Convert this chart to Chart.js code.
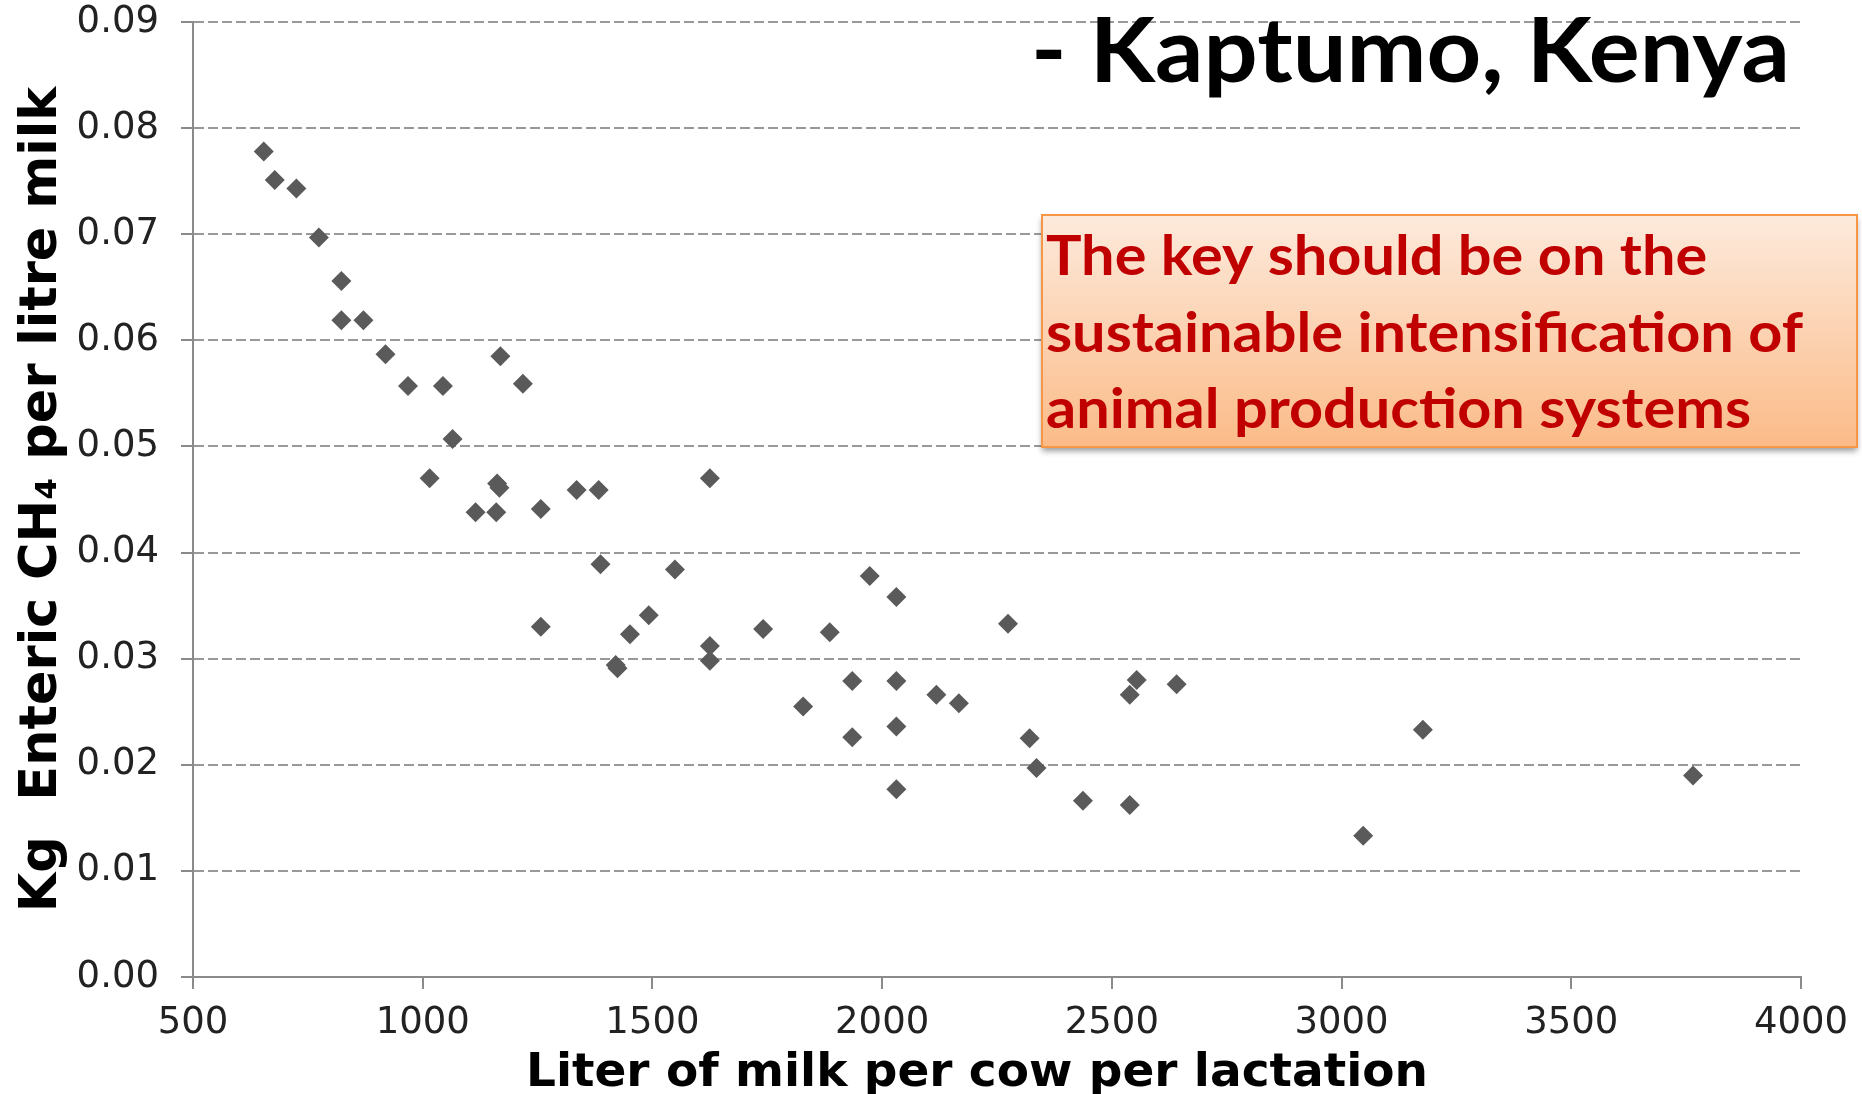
<!DOCTYPE html>
<html>
<head>
<meta charset="utf-8">
<script src="https://cdn.jsdelivr.net/npm/chart.js@4.4.1/dist/chart.umd.min.js"></script>
<style>
  html, body { margin: 0; padding: 0; background: #fff; }
  canvas { display: block; }
</style>
</head>
<body>
<canvas id="ch4Chart" width="1862" height="1094"></canvas>
<script>
// Datos (litros por lactancia, kg CH4 por litro)
const milkLitres = [654, 678, 725, 774, 823, 823, 871, 919, 968, 1044, 1169, 1218, 1065, 1015, 1162, 1167,
  1335, 1383, 1625, 1115, 1160, 1257, 1257, 1387, 1549, 1492, 1451, 1420, 1424, 1625, 1625, 1741,
  1886, 1973, 2031, 1828, 1935, 2031, 2118, 2167, 1935, 2031, 2031, 2274, 2554, 2539, 2641, 2321,
  2336, 2437, 2539, 3047, 3177, 3765];
const ch4PerLitre = [0.0778, 0.0751, 0.0743, 0.0697, 0.0656, 0.0619, 0.0619, 0.0587, 0.0557, 0.0557, 0.0585, 0.0559, 0.0507, 0.0470, 0.0465, 0.0461,
  0.0459, 0.0459, 0.0470, 0.0438, 0.0438, 0.0441, 0.0330, 0.0389, 0.0384, 0.0341, 0.0323, 0.0294, 0.0291, 0.0312, 0.0298, 0.0328,
  0.0325, 0.0378, 0.0358, 0.0255, 0.0279, 0.0279, 0.0266, 0.0258, 0.0226, 0.0236, 0.0177, 0.0333, 0.0280, 0.0266, 0.0276, 0.0225,
  0.0197, 0.0166, 0.0162, 0.0133, 0.0233, 0.0190];

const xTicks = [500, 1000, 1500, 2000, 2500, 3000, 3500, 4000];
const yTicks = [0, 0.01, 0.02, 0.03, 0.04, 0.05, 0.06, 0.07, 0.08, 0.09];

const titleText = '- Kaptumo, Kenya';
const xTitleText = 'Liter of milk per cow per lactation';
const boxLines = ['The key should be on the', 'sustainable intensification of', 'animal production systems'];

const axisGray = '#8a8a8a';

// Titulo, recuadro naranja y titulo del eje X
const annotations = {
    id: 'annotations',
    afterDraw(chart) {
        const ctx = chart.ctx;
        ctx.save();
        ctx.textBaseline = 'alphabetic';

        // titulo grande
        ctx.font = 'bold 90px Lato';
        ctx.fillStyle = '#000';
        let w = ctx.measureText(titleText).width;
        ctx.save();
        ctx.translate(1031, 82);
        ctx.scale(759 / w, 1);
        ctx.fillText(titleText, 0, 0);
        ctx.restore();

        // titulo eje X
        ctx.font = 'bold 47px "DejaVu Sans"';
        ctx.textAlign = 'center';
        ctx.fillText(xTitleText, 977, 1086);
        ctx.textAlign = 'left';

        // recuadro
        const bx = 1042, by = 215, bw = 815, bh = 232;
        const grad = ctx.createLinearGradient(0, by, 0, by + bh);
        grad.addColorStop(0, '#fdeadc');
        grad.addColorStop(1, '#fbbb88');
        ctx.save();
        ctx.shadowColor = 'rgba(0,0,0,0.4)';
        ctx.shadowBlur = 6;
        ctx.shadowOffsetY = 4;
        ctx.fillStyle = grad;
        ctx.fillRect(bx, by, bw, bh);
        ctx.restore();
        ctx.strokeStyle = '#f79646';
        ctx.lineWidth = 2;
        ctx.strokeRect(bx, by, bw, bh);

        ctx.font = 'bold 56px Lato';
        ctx.fillStyle = '#c00000';
        const sx = 757 / ctx.measureText(boxLines[1]).width;
        const baselines = [275, 352, 428];
        boxLines.forEach((line, i) => {
            ctx.save();
            ctx.translate(1046, baselines[i]);
            ctx.scale(sx, 1);
            ctx.fillText(line, 0, 0);
            ctx.restore();
        });

        ctx.restore();
    }
};

const ctx = document.getElementById('ch4Chart').getContext('2d');
new Chart(ctx, {
    type: 'scatter',
    data: {
        datasets: [{
            data: milkLitres.map((x, i) => ({ x: x, y: ch4PerLitre[i] })),
            pointStyle: 'rectRot',
            pointRadius: 10,
            pointHoverRadius: 10,
            backgroundColor: '#5a5a5a',
            borderWidth: 0
        }]
    },
    options: {
        responsive: false,
        animation: false,
        layout: { padding: { left: 0, right: 61, top: 22, bottom: 0 } },
        plugins: {
            legend: { display: false },
            tooltip: { enabled: false }
        },
        scales: {
            x: {
                type: 'linear',
                min: 500,
                max: 4000,
                afterBuildTicks: function(scale) {
                    scale.ticks = xTicks.map(v => ({ value: v }));
                },
                afterFit: function(scale) {
                    scale.height = 1094 - 977;
                    scale.paddingLeft = 0;
                    scale.paddingRight = 0;
                },
                ticks: {
                    font: { family: 'DejaVu Sans', size: 37 },
                    color: '#222',
                    padding: 12,
                    maxRotation: 0,
                    callback: function(value) { return String(value); }
                },
                grid: {
                    drawOnChartArea: false,
                    tickLength: 12,
                    color: axisGray,
                    lineWidth: 2
                },
                border: { color: axisGray, width: 2 }
            },
            y: {
                min: 0,
                max: 0.09,
                afterBuildTicks: function(scale) {
                    scale.ticks = yTicks.map(v => ({ value: v }));
                },
                afterFit: function(scale) {
                    scale.width = 193;
                    scale.paddingTop = 0;
                    scale.paddingBottom = 0;
                },
                ticks: {
                    font: { family: 'DejaVu Sans', size: 37 },
                    color: '#222',
                    padding: 22,
                    callback: function(value) { return value.toFixed(2); }
                },
                grid: {
                    color: '#999',
                    lineWidth: 2,
                    tickLength: 12,
                    tickColor: axisGray,
                    tickBorderDash: []
                },
                border: { color: axisGray, width: 2, dash: [10, 4] },
                title: {
                    display: true,
                    text: 'Kg  Enteric CH\u2084 per litre milk',
                    color: '#000',
                    font: { family: 'DejaVu Sans', size: 51, weight: 'bold', lineHeight: 1.2 },
                    padding: { top: 12, bottom: 0 }
                }
            }
        }
    },
    plugins: [annotations]
});
</script>
</body>
</html>
